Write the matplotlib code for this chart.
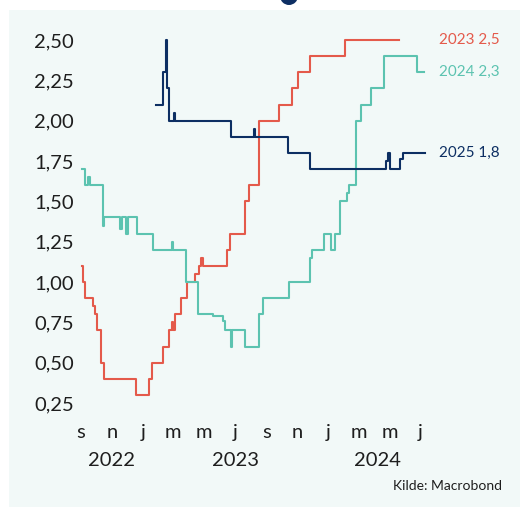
import matplotlib
matplotlib.use("Agg")
import matplotlib.pyplot as plt
import matplotlib.dates as mdates
from matplotlib.patches import Rectangle, Ellipse
from matplotlib.transforms import blended_transform_factory
from matplotlib.ticker import FuncFormatter
import pandas as pd

# ---- data ----
red_dates = ["2022-09-02","2022-09-05","2022-09-09","2022-09-24","2022-09-28","2022-10-02","2022-10-11",
             "2022-10-17","2022-12-18","2023-01-13","2023-01-18","2023-02-10","2023-02-22","2023-02-27",
             "2023-03-02","2023-03-05","2023-03-18","2023-03-28","2023-04-13","2023-04-22","2023-04-25",
             "2023-04-29","2023-06-15","2023-06-22","2023-07-21","2023-07-30","2023-08-18","2023-09-26",
             "2023-10-21","2023-11-03","2023-11-27","2024-02-04","2024-05-19"]
red_vals = [1.10,1.00,0.90,0.85,0.80,0.70,0.50,0.40,0.30,0.40,0.50,0.60,0.70,0.75,0.70,0.80,0.90,1.00,
            1.05,1.10,1.15,1.10,1.20,1.30,1.50,1.60,2.00,2.10,2.20,2.30,2.40,2.50,2.50]

teal_dates = ["2022-09-02","2022-09-09","2022-09-15","2022-09-18","2022-10-14","2022-10-16","2022-11-17",
              "2022-11-20","2022-11-29","2022-12-02","2022-12-20","2023-01-21","2023-02-27","2023-03-01",
              "2023-03-27","2023-04-20","2023-05-20","2023-06-07","2023-06-12","2023-06-24","2023-06-26",
              "2023-07-21","2023-08-18","2023-08-26","2023-10-15","2023-11-26","2023-12-01","2023-12-24",
              "2024-01-07","2024-01-14","2024-01-25","2024-02-08","2024-02-11","2024-02-26","2024-03-05",
              "2024-03-26","2024-04-21","2024-06-24","2024-07-09"]
teal_vals = [1.70,1.60,1.65,1.60,1.35,1.40,1.33,1.40,1.30,1.40,1.30,1.20,1.25,1.20,1.00,0.80,0.79,0.76,
             0.70,0.60,0.70,0.60,0.80,0.90,1.00,1.15,1.20,1.30,1.20,1.30,1.50,1.55,1.60,2.00,2.10,2.20,
             2.40,2.30,2.30]

navy_dates = ["2023-01-26","2023-02-10","2023-02-15","2023-02-18","2023-02-21","2023-03-03","2023-03-05",
              "2023-06-23","2023-08-07","2023-08-09","2023-10-14","2023-11-27","2024-04-25","2024-04-29",
              "2024-05-03","2024-05-22","2024-05-27","2024-07-11"]
navy_vals = [2.10,2.30,2.50,2.20,2.00,2.05,2.00,1.90,1.95,1.90,1.80,1.70,1.75,1.80,1.70,1.76,1.80,1.80]

series_labels = ["2023 2,5", "2024 2,3", "2025 1,8"]
y_ticks = [0.25, 0.50, 0.75, 1.00, 1.25, 1.50, 1.75, 2.00, 2.25, 2.50]
x_tick_dates = ["2022-09-01","2022-11-01","2023-01-01","2023-03-01","2023-05-01","2023-07-01",
                "2023-09-01","2023-11-01","2024-01-01","2024-03-01","2024-05-01","2024-07-01"]
x_tick_labels = ["s","n","j","m","m","j","s","n","j","m","m","j"]
year_labels = ["2022", "2023", "2024"]
year_centers = ["2022-11-01", "2023-07-02", "2024-04-08"]
source = "Kilde: Macrobond"

RED = "#e45a4b"
TEAL = "#5cc3b0"
NAVY = "#0d2f63"
TXT = "#1e1e1e"
PANEL = "#f2f9f8"

plt.rcParams['font.family'] = ['Lato', 'DejaVu Sans']

W, H = 520, 507
fig = plt.figure(figsize=(W/100, H/100), dpi=100)
fig.patch.set_facecolor("white")
fig.patches.append(Rectangle((9/W, 0), 1 - 9/W, 1 - 10/H, transform=fig.transFigure,
                             facecolor=PANEL, edgecolor="none", zorder=-10))
fig.patches.append(Ellipse((289/W, 1 + 4/H), 18/W, 18/H, transform=fig.transFigure,
                           facecolor=NAVY, edgecolor="none", zorder=-5))

ax_l, ax_r, ax_t, ax_b = 78, 428, 30, 410
ax = fig.add_axes([ax_l/W, 1 - ax_b/H, (ax_r-ax_l)/W, (ax_b-ax_t)/H])
ax.set_facecolor("none")
for s in ax.spines.values():
    s.set_visible(False)

def d(lst):
    return pd.to_datetime(lst)

ax.plot(d(red_dates), red_vals, drawstyle="steps-post", color=RED, lw=1.5)
ax.plot(d(teal_dates), teal_vals, drawstyle="steps-post", color=TEAL, lw=1.5)
ax.plot(d(navy_dates), navy_vals, drawstyle="steps-post", color=NAVY, lw=1.5)

ax.set_xlim(pd.Timestamp("2022-08-26"), pd.Timestamp("2024-07-16"))
ax.set_ylim(0.2066, 2.562)

ax.set_yticks(y_ticks)
ax.yaxis.set_major_formatter(FuncFormatter(lambda v, p: f"{v:.2f}".replace(".", ",")))
ax.set_xticks(d(x_tick_dates))
ax.set_xticklabels(x_tick_labels)
ax.tick_params(axis="both", length=0, labelsize=14.5, colors=TXT)
ax.tick_params(axis="y", pad=3)
ax.tick_params(axis="x", pad=10)

tr = blended_transform_factory(ax.transData, fig.transFigure)
for lab, c in zip(year_labels, year_centers):
    ax.text(pd.Timestamp(c), 1 - 461/H, lab, transform=tr, ha="center", va="center",
            fontsize=14.5, color=TXT)

tr2 = blended_transform_factory(fig.transFigure, ax.transData)
last_vals = [red_vals[-1], teal_vals[-1], navy_vals[-1]]
for lab, v, c in zip(series_labels, last_vals, [RED, TEAL, NAVY]):
    ax.text(439/W, v, lab, transform=tr2, ha="left", va="center", fontsize=11, color=c,
            clip_on=False)

fig.text(502/W, 1 - 486/H, source, ha="right", va="center", fontsize=10, color=TXT)

fig.savefig("out.png", dpi=100)
